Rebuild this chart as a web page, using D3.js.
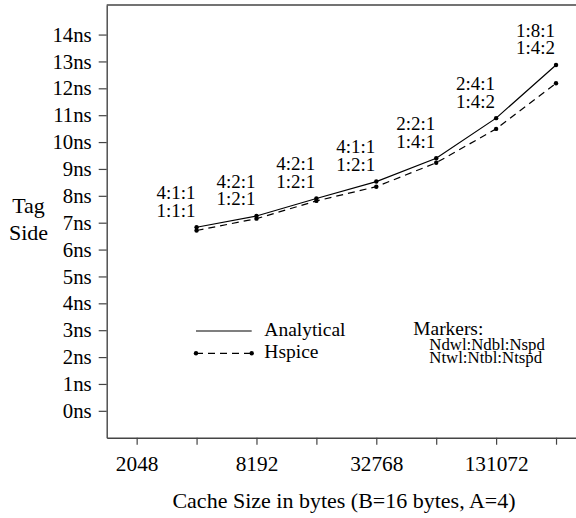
<!DOCTYPE html>
<html>
<head>
<meta charset="utf-8">
<script src="https://cdn.jsdelivr.net/npm/d3@7"></script>
<style>
  html, body { margin: 0; padding: 0; background: #fff; }
  svg { display: block; }
  text { font-family: "Liberation Serif", "Times New Roman", serif; fill: #000; }
</style>
</head>
<body>
<svg id="chart" width="576" height="518"></svg>
<script>
const cacheSizes = [4096, 8192, 16384, 32768, 65536, 131072, 262144];
const analytical = [6.83, 7.25, 7.90, 8.53, 9.40, 10.89, 12.87];
const hspice = [6.71, 7.15, 7.81, 8.34, 9.23, 10.49, 12.19];
const markerTop = ["4:1:1", "4:2:1", "4:2:1", "4:1:1", "2:2:1", "2:4:1", "1:8:1"];
const markerBottom = ["1:1:1", "1:2:1", "1:2:1", "1:2:1", "1:4:1", "1:4:2", "1:4:2"];
const xTickValues = [2048, 4096, 8192, 16384, 32768, 65536, 131072, 262144];
const xTickLabels = ["2048", "", "8192", "", "32768", "", "131072", ""];
const yTickValues = [0,1,2,3,4,5,6,7,8,9,10,11,12,13,14];

const svg = d3.select("#chart");
const plotLeft = 106.7, plotRight = 576, plotTop = 5, plotBottom = 437.7;

const x = d3.scaleLog().base(2).domain([Math.pow(2, 10.5), Math.pow(2, 11 + 440/60)]).range([plotLeft, plotRight]);
const y = d3.scaleLinear().domain([-1, 15.1]).range([plotBottom, plotTop]);

const axisColor = "#444";

// top frame line
svg.append("line").attr("x1", plotLeft).attr("x2", plotRight).attr("y1", plotTop).attr("y2", plotTop)
  .attr("stroke", axisColor).attr("stroke-width", 1.4);

// Y axis
const yAxis = svg.append("g").attr("transform", `translate(${plotLeft},0)`)
  .call(d3.axisLeft(y).tickValues(yTickValues).tickFormat(d => d + "ns").tickSize(8).tickPadding(7).tickSizeOuter(0));
yAxis.select(".domain").attr("stroke", axisColor).attr("stroke-width", 1.4);
yAxis.selectAll(".tick line").attr("stroke", axisColor).attr("stroke-width", 1.2);
yAxis.selectAll("text").attr("font-size", 20.8).attr("font-family", "Liberation Serif, serif").attr("fill", "#000");

// X axis
const xAxis = svg.append("g").attr("transform", `translate(0,${plotBottom})`)
  .call(d3.axisBottom(x).tickValues(xTickValues).tickFormat((d, i) => xTickLabels[i]).tickSize(7).tickPadding(11).tickSizeOuter(0));
xAxis.select(".domain").attr("stroke", axisColor).attr("stroke-width", 1.4);
xAxis.selectAll(".tick line").attr("stroke", axisColor).attr("stroke-width", 1.2);
xAxis.selectAll("text").attr("font-size", 21.3).attr("font-family", "Liberation Serif, serif").attr("fill", "#000");

// Axis titles
svg.append("text").attr("x", 344).attr("y", 508).attr("text-anchor", "middle")
  .attr("font-size", 22).text("Cache Size in bytes (B=16 bytes, A=4)");
svg.append("text").attr("x", 28.5).attr("y", 213).attr("text-anchor", "middle")
  .attr("font-size", 22).text("Tag");
svg.append("text").attr("x", 28.5).attr("y", 239.5).attr("text-anchor", "middle")
  .attr("font-size", 22).text("Side");

// Lines
const pts = (vals) => cacheSizes.map((c, i) => [x(c), y(vals[i])]);
const line = d3.line();
svg.append("path").attr("d", line(pts(analytical))).attr("fill", "none")
  .attr("stroke", "#000").attr("stroke-width", 1.2);
svg.append("path").attr("d", line(pts(hspice))).attr("fill", "none")
  .attr("stroke", "#000").attr("stroke-width", 1.2).attr("stroke-dasharray", "7,5");

// dots
[analytical, hspice].forEach(vals => {
  svg.append("g").selectAll("circle").data(pts(vals)).join("circle")
    .attr("cx", d => d[0]).attr("cy", d => d[1]).attr("r", 2.2).attr("fill", "#000");
});

// marker labels
const lab = svg.append("g").attr("font-size", 19).attr("text-anchor", "end");
cacheSizes.forEach((c, i) => {
  const px = x(c) - 1, py = y(analytical[i]);
  lab.append("text").attr("x", px).attr("y", py - 28.3).text(markerTop[i]);
  lab.append("text").attr("x", px).attr("y", py - 10.5).text(markerBottom[i]);
});

// legend
const lg = svg.append("g");
lg.append("line").attr("x1", 196).attr("x2", 251.7).attr("y1", 331).attr("y2", 331)
  .attr("stroke", "#000").attr("stroke-width", 1.2);
lg.append("text").attr("x", 264.3).attr("y", 335.5).attr("font-size", 19.5).text("Analytical");
lg.append("line").attr("x1", 196).attr("x2", 251.7).attr("y1", 353.3).attr("y2", 353.3)
  .attr("stroke", "#000").attr("stroke-width", 1.2).attr("stroke-dasharray", "7,5");
lg.selectAll("circle.l").data([196, 251.7]).join("circle").attr("class", "l").attr("cx", d => d).attr("cy", 353.3)
  .attr("r", 2.2).attr("fill", "#000");
lg.append("text").attr("x", 264.3).attr("y", 357.5).attr("font-size", 19.5).text("Hspice");
lg.append("text").attr("x", 413.3).attr("y", 334.5).attr("font-size", 19.4).text("Markers:");
lg.append("text").attr("x", 429.3).attr("y", 349.5).attr("font-size", 16.8).text("Ndwl:Ndbl:Nspd");
lg.append("text").attr("x", 429.3).attr("y", 363.3).attr("font-size", 16.8).text("Ntwl:Ntbl:Ntspd");
</script>
</body>
</html>
